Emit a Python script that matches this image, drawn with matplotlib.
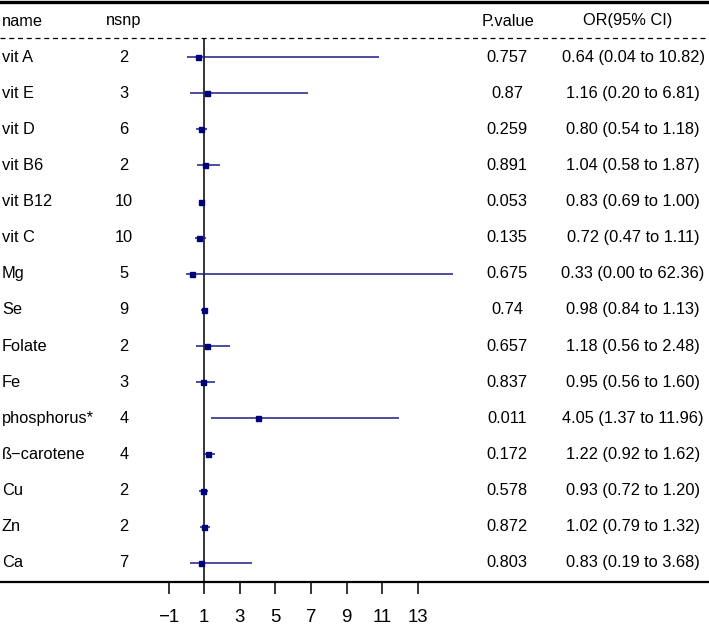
import matplotlib
matplotlib.use("Agg")
import matplotlib.pyplot as plt
import matplotlib.transforms as mtransforms

plt.rcParams['font.family'] = ['Liberation Sans', 'DejaVu Sans']

names = ["vit A", "vit E", "vit D", "vit B6", "vit B12", "vit C", "Mg", "Se",
         "Folate", "Fe", "phosphorus*", "ß−carotene", "Cu", "Zn", "Ca"]
nsnp = [2, 3, 6, 2, 10, 10, 5, 9, 2, 3, 4, 4, 2, 2, 7]
pvals = ["0.757", "0.87", "0.259", "0.891", "0.053", "0.135", "0.675", "0.74",
         "0.657", "0.837", "0.011", "0.172", "0.578", "0.872", "0.803"]
or_est = [0.64, 1.16, 0.80, 1.04, 0.83, 0.72, 0.33, 0.98, 1.18, 0.95, 4.05, 1.22, 0.93, 1.02, 0.83]
ci_lo = [0.04, 0.20, 0.54, 0.58, 0.69, 0.47, 0.00, 0.84, 0.56, 0.56, 1.37, 0.92, 0.72, 0.79, 0.19]
ci_hi = [10.82, 6.81, 1.18, 1.87, 1.00, 1.11, 62.36, 1.13, 2.48, 1.60, 11.96, 1.62, 1.20, 1.32, 3.68]
xticks = [-1, 1, 3, 5, 7, 9, 11, 13]
headers = ["name", "nsnp", "P.value", "OR(95% CI)"]

W, H = 709, 632
fig = plt.figure(figsize=(W / 100, H / 100), dpi=100)

# background axes in pixel coordinates
bg = fig.add_axes([0, 0, 1, 1])
bg.set_xlim(0, W)
bg.set_ylim(H, 0)
bg.axis('off')

# forest axes
left_px, right_px = 159.6, 453.3
top_px, bot_px = 38, 582
ax = fig.add_axes([left_px / W, (H - bot_px) / H, (right_px - left_px) / W, (bot_px - top_px) / H])
ax.patch.set_alpha(0)
n = len(names)
ax.set_xlim(-1.5, 15)
ax.set_ylim(n - 1 + 0.53, -0.526)
for s in ax.spines.values():
    s.set_visible(False)
ax.set_yticks([])
ax.set_xticks(xticks)
ax.set_xticklabels([str(t).replace('-', '\u2212') for t in xticks])
ax.tick_params(axis='x', direction='out', length=8.6, width=1.1, labelsize=13.4, pad=11)

ax.axvline(1, color='black', lw=1.1, zorder=1)
rows = list(range(n))
for i in rows:
    ax.plot([ci_lo[i], ci_hi[i]], [i, i], color='#1c1c86', lw=1.1, solid_capstyle='butt', zorder=2)
ax.plot(or_est, rows, linestyle='none', marker='s', ms=3.6, color='#00007a', zorder=3)

# lines
bg.plot([0, W], [1.5, 1.5], color='black', lw=2.4)
bg.plot([0, W], [top_px, top_px], color='black', lw=0.9, dashes=(4, 3))
bg.plot([0, W], [bot_px, bot_px], color='black', lw=1.6)

fs = 11.8
tr = mtransforms.blended_transform_factory(fig.transFigure, ax.transData)
x_name, x_nsnp, x_p, x_or = 2 / W, 124 / W, 507 / W, 633 / W

for i in rows:
    fig.text(x_name, i, names[i], transform=tr, ha='left', va='center', fontsize=fs)
    fig.text(x_nsnp, i, str(nsnp[i]), transform=tr, ha='center', va='center', fontsize=fs)
    fig.text(x_p, i, pvals[i], transform=tr, ha='center', va='center', fontsize=fs)
    ci_txt = "%.2f (%.2f to %.2f)" % (or_est[i], ci_lo[i], ci_hi[i])
    fig.text(x_or, i, ci_txt, transform=tr, ha='center', va='center', fontsize=fs)

hy = 21
bg.text(2, hy, headers[0], ha='left', va='center', fontsize=fs)
bg.text(124, hy, headers[1], ha='center', va='center', fontsize=fs)
bg.text(508, hy, headers[2], ha='center', va='center', fontsize=fs)
bg.text(628, hy, headers[3], ha='center', va='center', fontsize=fs)

fig.savefig("out.png", dpi=100)
